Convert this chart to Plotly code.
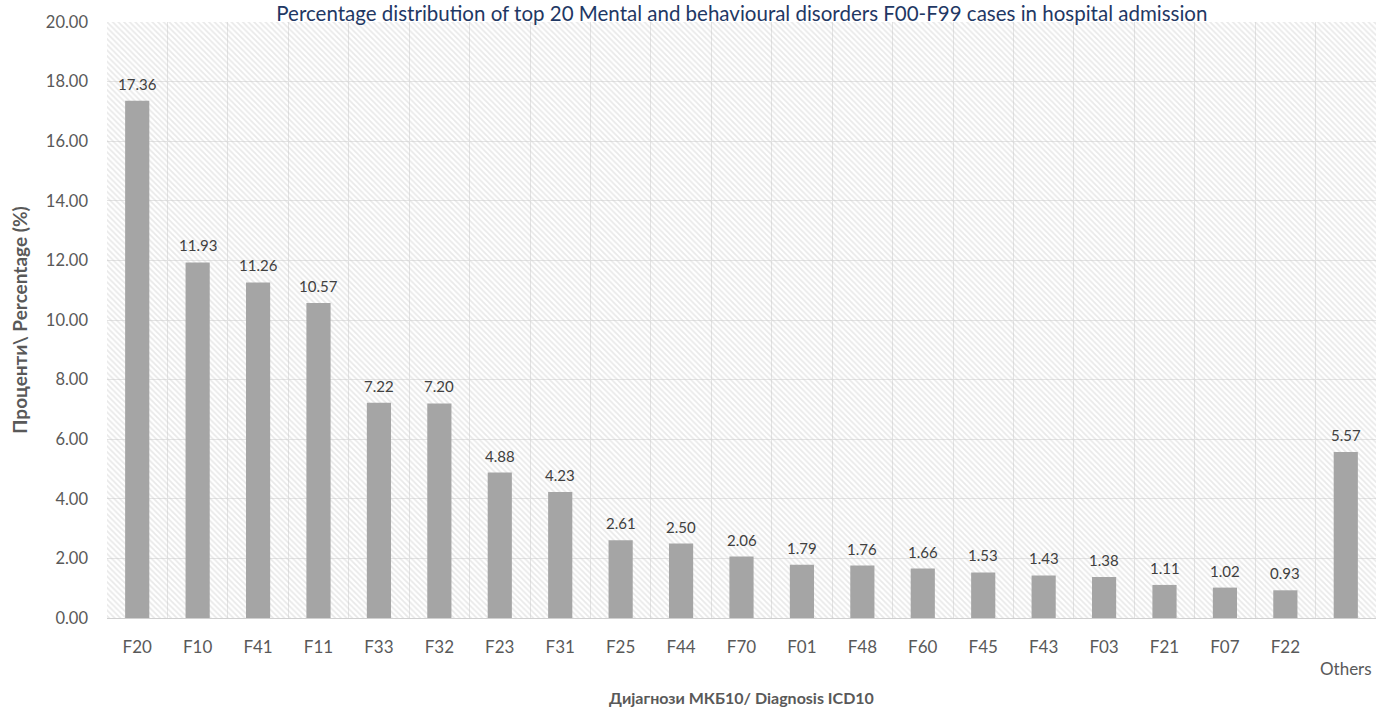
import plotly.graph_objects as go

# ICD-10 diagnosis codes and their share of hospital admissions (%)
codes = ["F20", "F10", "F41", "F11", "F33", "F32", "F23", "F31", "F25", "F44",
         "F70", "F01", "F48", "F60", "F45", "F43", "F03", "F21", "F07", "F22", "Others"]
percent = [17.36, 11.93, 11.26, 10.57, 7.22, 7.20, 4.88, 4.23, 2.61, 2.50,
           2.06, 1.79, 1.76, 1.66, 1.53, 1.43, 1.38, 1.11, 1.02, 0.93, 5.57]
tick_labels = codes[:-1] + ["<br>Others"]

y_ticks = [0, 2, 4, 6, 8, 10, 12, 14, 16, 18, 20]

title_text = ("Percentage distribution of top 20 Mental and behavioural disorders "
              "F00-F99 cases in hospital admission")

FONT = "Lato"
GREY_TXT = "#595959"

fig = go.Figure()

# hatched plot-area background, drawn as one full-width bar on a hidden axis
fig.add_trace(go.Bar(
    x=[0.5], y=[20], width=[1.0], xaxis="x", yaxis="y",
    marker=dict(color="rgba(0,0,0,0)", line=dict(width=0),
                pattern=dict(shape="\\", fgcolor="rgba(200,200,200,0.8)",
                             bgcolor="rgba(0,0,0,0)", size=4, solidity=0.45)),
    hoverinfo="skip", showlegend=False,
))

# data bars
fig.add_trace(go.Bar(
    x=codes, y=percent, xaxis="x2", yaxis="y",
    marker=dict(color="#A5A5A5", line=dict(width=0)),
    showlegend=False, hoverinfo="x+y",
))

# value labels above each bar
for c, v in zip(codes, percent):
    fig.add_annotation(
        x=c, y=v, xref="x2", yref="y", text=f"{v:.2f}", showarrow=False,
        yanchor="bottom", yshift=6,
        font=dict(family=FONT, size=15, color="#404040"),
    )

fig.update_layout(
    width=1379, height=707,
    margin=dict(l=107, r=3, t=22, b=89),
    paper_bgcolor="white", plot_bgcolor="white",
    bargap=0.6,
    font=dict(family=FONT, color=GREY_TXT),
    title=dict(text=title_text, x=0.538, xanchor="center", y=0.980, yanchor="middle",
               font=dict(family=FONT, size=20.5, color="#1F3864")),
    xaxis=dict(range=[0, 1], visible=False, showgrid=False, fixedrange=True),
    xaxis2=dict(
        overlaying="x", type="category", categoryorder="array", categoryarray=codes,
        tickmode="array", tickvals=codes, ticktext=tick_labels,
        tickson="boundaries", showgrid=True, gridcolor="#E4E4E4", gridwidth=1,
        showline=False, ticks="", ticklabelstandoff=17,
        tickfont=dict(family=FONT, size=17, color=GREY_TXT),
        title=dict(text="<b>Дијагнози МКБ10/ Diagnosis ICD10</b>", standoff=14,
                   font=dict(family=FONT, size=16, color=GREY_TXT)),
        side="bottom", anchor="y",
    ),
    yaxis=dict(
        range=[0, 20], tickmode="array", tickvals=y_ticks,
        ticktext=[f"{v:.2f}" for v in y_ticks],
        showgrid=True, gridcolor="#E4E4E4", gridwidth=1,
        zeroline=True, zerolinecolor="#D0D0D0", zerolinewidth=1,
        ticks="", ticklabelstandoff=18,
        tickfont=dict(family=FONT, size=16.5, color=GREY_TXT),
        title=dict(text="<b>Проценти\\ Percentage (%)</b>", standoff=13,
                   font=dict(family=FONT, size=19, color=GREY_TXT)),
    ),
)

fig.write_html("out.html")
